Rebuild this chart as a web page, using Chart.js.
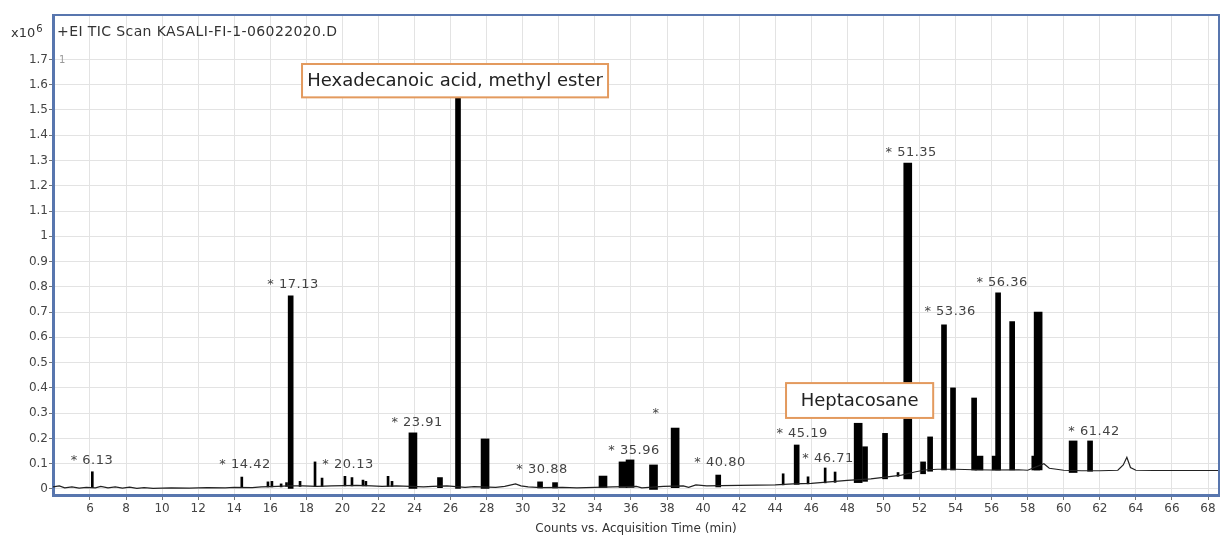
<!DOCTYPE html>
<html>
<head>
<meta charset="utf-8">
<script src="https://cdn.jsdelivr.net/npm/chart.js@4/dist/chart.umd.min.js"></script>
<style>
  html, body { margin: 0; padding: 0; background: #fff; }
  canvas { display: block; }
</style>
</head>
<body>
<canvas id="tic" width="1222" height="538"></canvas>
<script>
// TIC baseline trace: acquisition time (min) vs counts (x10^6)
const traceTimes  = [3.95, 4.3, 4.6, 5.0, 5.4, 5.8, 6.3, 6.6, 7.0, 7.4, 7.8, 8.2, 8.6, 9.0, 9.5, 10.5, 11.5, 12.5, 13.5, 14.0,
  15.0, 15.5, 16.4, 17.0, 17.8, 18.6, 19.4, 20.8, 21.6, 22.2, 23.0, 24.5, 25.0, 25.8, 26.8, 27.3, 28.5, 29.0, 29.6, 29.9,
  30.3, 31.0, 32.2, 33.0, 34.0, 35.0, 36.3, 36.6, 37.8, 38.9, 39.2, 39.6, 40.2, 41.0, 42.0, 43.0, 44.0, 45.0, 46.0, 47.0,
  48.0, 49.3, 50.0, 51.0, 51.8, 52.3, 53.0, 54.0, 55.0, 56.0, 57.5, 58.0, 58.9, 59.2, 60.0, 61.0, 62.0, 63.0, 63.3, 63.5,
  63.7, 64.0, 65.0, 66.0, 67.0, 68.0, 68.6];
const traceCounts = [0.008, 0.012, 0.004, 0.008, 0.003, 0.006, 0.004, 0.010, 0.004, 0.008, 0.003, 0.007, 0.002, 0.005, 0.002, 0.004, 0.003, 0.005, 0.004, 0.006,
  0.005, 0.008, 0.010, 0.012, 0.012, 0.010, 0.012, 0.014, 0.012, 0.010, 0.012, 0.008, 0.010, 0.012, 0.006, 0.009, 0.006, 0.010, 0.020, 0.012,
  0.008, 0.005, 0.006, 0.004, 0.006, 0.008, 0.010, 0.004, 0.010, 0.012, 0.006, 0.016, 0.012, 0.013, 0.014, 0.015, 0.016, 0.020, 0.022, 0.028,
  0.034, 0.040, 0.046, 0.055, 0.068, 0.075, 0.078, 0.078, 0.076, 0.075, 0.076, 0.074, 0.100, 0.082, 0.074, 0.072, 0.072, 0.074, 0.095, 0.125,
  0.085, 0.074, 0.073, 0.073, 0.073, 0.073, 0.073];

// narrow spikes
const spikeTimes = [6.13, 14.42, 15.87, 16.09, 16.6, 16.9, 17.65, 18.48, 18.87, 20.14, 20.53, 21.14, 21.3, 22.53, 22.75, 44.44, 45.82, 46.77, 47.32, 50.81];
const spikeTops  = [0.068, 0.047, 0.028, 0.030, 0.020, 0.025, 0.030, 0.107, 0.043, 0.050, 0.045, 0.035, 0.030, 0.050, 0.030, 0.060, 0.048, 0.083, 0.067, 0.065];
const spikeBases = [0.005, 0.005, 0.008, 0.008, 0.008, 0.010, 0.010, 0.010, 0.010, 0.012, 0.012, 0.012, 0.012, 0.010, 0.010, 0.016, 0.020, 0.024, 0.026, 0.050];

// medium peaks
const peakTimes = [17.13, 25.41, 26.41, 30.96, 31.79, 40.84, 45.19, 48.98, 50.09, 52.2, 52.59, 53.36, 53.86, 55.03, 56.36, 57.14, 61.46];
const peakTops  = [0.764, 0.045, 1.57, 0.028, 0.025, 0.055, 0.174, 0.167, 0.220, 0.107, 0.206, 0.650, 0.400, 0.360, 0.776, 0.662, 0.190];
const peakBases = [0.000, 0.005, 0.000, 0.004, 0.004, 0.008, 0.018, 0.030, 0.040, 0.060, 0.070, 0.075, 0.075, 0.075, 0.075, 0.075, 0.070];

// broad peaks
const broadTimes = [23.91, 27.91, 34.45, 35.56, 35.95, 37.25, 38.45, 48.6, 51.35, 55.3, 56.25, 58.45, 58.58, 60.52];
const broadTops  = [0.222, 0.198, 0.051, 0.107, 0.115, 0.095, 0.241, 0.260, 1.290, 0.130, 0.130, 0.130, 0.700, 0.190];
const broadBases = [0.000, 0.000, 0.006, 0.006, 0.006, -0.002, 0.005, 0.025, 0.040, 0.075, 0.075, 0.075, 0.075, 0.065];

// peak labels (centre time, level)
const labelTexts  = ['* 6.13', '* 14.42', '* 17.13', '* 20.13', '* 23.91', '* 30.88', '* 35.96', '*', '* 40.80', '* 45.19', '* 46.71', '* 51.35', '* 53.36', '* 56.36', '* 61.42'];
const labelTimes  = [6.11, 14.6, 17.26, 20.31, 24.14, 31.07, 36.17, 37.39, 40.94, 45.49, 46.93, 51.54, 53.7, 56.58, 61.68];
const labelLevels = [0.111, 0.095, 0.807, 0.095, 0.261, 0.075, 0.150, 0.300, 0.103, 0.218, 0.119, 1.330, 0.700, 0.815, 0.226];

const xTicks = [6, 8, 10, 12, 14, 16, 18, 20, 22, 24, 26, 28, 30, 32, 34, 36, 38, 40, 42, 44, 46, 48, 50, 52, 54, 56, 58, 60, 62, 64, 66, 68];
const yTicks = [0, 0.1, 0.2, 0.3, 0.4, 0.5, 0.6, 0.7, 0.8, 0.9, 1.0, 1.1, 1.2, 1.3, 1.4, 1.5, 1.6, 1.7];

const frameBlue = '#5876ae';

const toPoints = (ts, tops, bases) => ts.map((t, i) => ({ x: t, y: [bases[i], tops[i]] }));

const overlay = {
  id: 'overlay',
  afterDatasetsDraw(chart) {
    const { ctx, chartArea: a, scales: { x, y } } = chart;
    ctx.save();
    // frame top and right
    ctx.strokeStyle = frameBlue;
    ctx.lineWidth = 2;
    ctx.beginPath();
    ctx.moveTo(a.left, a.top);
    ctx.lineTo(a.right, a.top);
    ctx.lineTo(a.right, a.bottom);
    ctx.stroke();

    ctx.fillStyle = '#333';
    ctx.textBaseline = 'middle';
    ctx.textAlign = 'left';
    ctx.letterSpacing = '0.4px';
    ctx.font = "14px 'DejaVu Sans'";
    ctx.fillText('+EI TIC Scan KASALI-FI-1-06022020.D', a.left + 4, 32);
    ctx.letterSpacing = '0px';
    ctx.font = "13px 'DejaVu Sans'";
    ctx.fillText('x10', 11, 34);
    const w = ctx.measureText('x10').width;
    ctx.font = "10px 'DejaVu Sans'";
    ctx.fillText('6', 11 + w + 1, 29);
    ctx.fillStyle = '#999';
    ctx.fillText('1', a.left + 6, 60);

    // peak labels
    ctx.fillStyle = '#444';
    ctx.font = "13px 'DejaVu Sans'";
    ctx.letterSpacing = '0.5px';
    ctx.textAlign = 'center';
    labelTexts.forEach((txt, i) => {
      ctx.fillText(txt, x.getPixelForValue(labelTimes[i]), y.getPixelForValue(labelLevels[i]));
    });
    ctx.letterSpacing = '0px';

    // compound boxes
    const boxes = [
      { text: 'Hexadecanoic acid, methyl ester', t0: 17.76, t1: 34.73, v0: 1.55, v1: 1.682 },
      { text: 'Heptacosane', t0: 44.6, t1: 52.76, v0: 0.281, v1: 0.419 }
    ];
    boxes.forEach(b => {
      const l = x.getPixelForValue(b.t0), r = x.getPixelForValue(b.t1);
      const t = y.getPixelForValue(b.v1), btm = y.getPixelForValue(b.v0);
      ctx.fillStyle = '#fff';
      ctx.fillRect(l, t, r - l, btm - t);
      ctx.strokeStyle = '#e39a5e';
      ctx.lineWidth = 2;
      ctx.strokeRect(l, t, r - l, btm - t);
      ctx.fillStyle = '#222';
      ctx.font = "18px 'DejaVu Sans'";
      ctx.fillText(b.text, (l + r) / 2, (t + btm) / 2 + 1);
    });
    ctx.restore();
  }
};

new Chart(document.getElementById('tic'), {
  type: 'line',
  data: {
    datasets: [
      { type: 'line', label: 'TIC', data: traceTimes.map((t, i) => ({ x: t, y: traceCounts[i] })),
        borderColor: '#222', borderWidth: 1.2, pointRadius: 0, tension: 0, fill: false, order: 0 },
      { type: 'bar', label: 'spikes', data: toPoints(spikeTimes, spikeTops, spikeBases),
        backgroundColor: '#000', barThickness: 2, grouped: false, order: 1 },
      { type: 'bar', label: 'peaks', data: toPoints(peakTimes, peakTops, peakBases),
        backgroundColor: '#000', barThickness: 5, grouped: false, order: 1 },
      { type: 'bar', label: 'broad', data: toPoints(broadTimes, broadTops, broadBases),
        backgroundColor: '#000', barThickness: 8, grouped: false, order: 1 }
    ]
  },
  options: {
    responsive: false,
    animation: false,
    devicePixelRatio: 1,
    layout: { padding: { top: 15, right: 3, left: 0, bottom: 0 } },
    plugins: { legend: { display: false }, tooltip: { enabled: false } },
    scales: {
      x: {
        type: 'linear', min: 3.95, max: 68.61, offset: false,
        afterBuildTicks: s => { s.ticks = xTicks.map(v => ({ value: v })); },
        afterFit: s => { s.height = 43; },
        grid: { color: '#e3e3e3', tickColor: '#777', tickLength: 5, offset: false },
        border: { color: frameBlue, width: 3 },
        ticks: { color: '#444', font: { family: 'DejaVu Sans', size: 12 }, padding: 2, maxRotation: 0, autoSkip: false },
        title: { display: true, text: 'Counts vs. Acquisition Time (min)', color: '#333',
                 font: { family: 'DejaVu Sans', size: 12 }, padding: { top: 0, bottom: 2 } }
      },
      y: {
        min: -0.024, max: 1.876,
        afterBuildTicks: s => { s.ticks = yTicks.map(v => ({ value: v })); },
        afterFit: s => { s.width = 53; },
        grid: { color: '#e3e3e3', tickColor: '#777', tickLength: 4 },
        border: { color: frameBlue, width: 3 },
        ticks: { color: '#444', font: { family: 'DejaVu Sans', size: 12 }, padding: 1,
                 callback: v => (Math.round(v * 10) / 10).toString() }
      }
    }
  },
  plugins: [overlay]
});
</script>
</body>
</html>
